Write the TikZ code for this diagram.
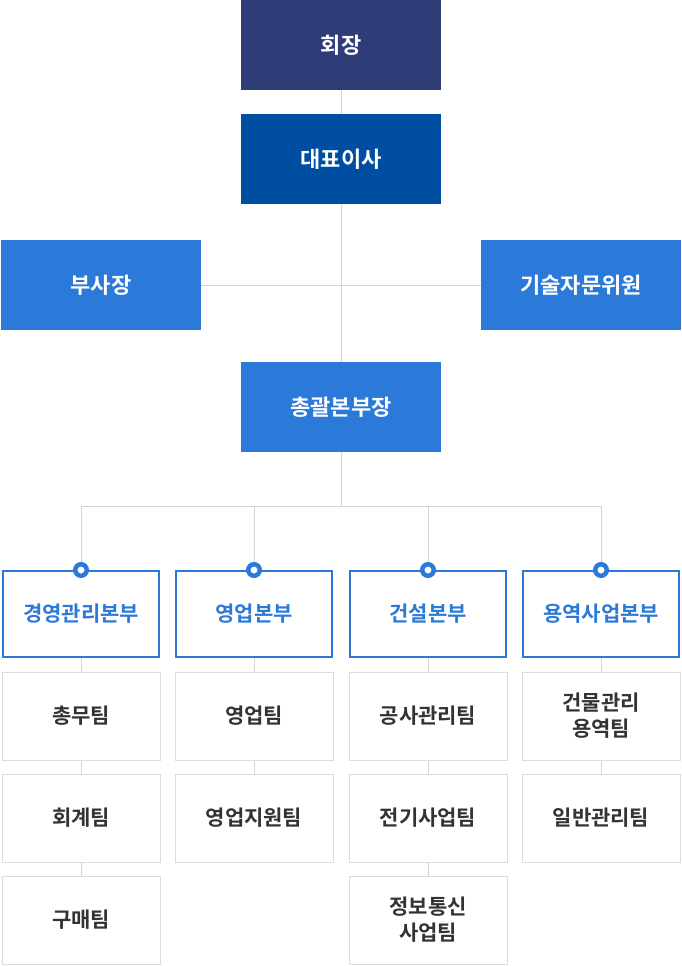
\documentclass[tikz,border=0pt]{standalone}
\usepackage{fontspec}
\setmainfont{Noto Sans CJK KR}[BoldFont={Noto Sans CJK KR Bold}]
\definecolor{navy}{HTML}{2E3C78}
\definecolor{royal}{HTML}{004EA1}
\definecolor{sky}{HTML}{2B79D8}
\definecolor{linegray}{HTML}{D4D4D4}
\definecolor{boxgray}{HTML}{DCDCDC}
\definecolor{textgray}{HTML}{333333}
\tikzset{
  headbox/.style={fill=#1,inner sep=0,minimum width=200pt,minimum height=90pt,
    text=white,font=\bfseries\fontsize{22}{26}\selectfont},
  divbox/.style={draw=sky,line width=2pt,fill=white,inner sep=0,minimum width=156pt,
    minimum height=86pt,text=sky,font=\bfseries\fontsize{21}{25}\selectfont},
  teambox/.style={draw=boxgray,line width=1pt,fill=white,inner sep=0,minimum width=158pt,
    minimum height=88pt,align=center,text=textgray,font=\bfseries\fontsize{21}{26}\selectfont},
  link/.style={draw=linegray,line width=1pt},
  knob/.style={circle,draw=sky,fill=white,line width=4.5pt,minimum size=11.5pt,inner sep=0}
}
\begin{document}
\begin{tikzpicture}[x=1pt,y=-1pt]
    \useasboundingbox (0,0) rectangle (682,966);
    %% top of the chart
    \node[headbox=navy] (chair) at (341,45) {회장};
    \node[headbox=royal] (ceo) at (341,159) {대표이사};
    \node[headbox=sky] (vp) at (101,285) {부사장};
    \node[headbox=sky] (adv) at (581,285) {기술자문위원};
    \node[headbox=sky] (gm) at (341,407) {총괄본부장};
    %% divisions
    \node[divbox] (d1) at (81,614) {경영관리본부};
    \node[divbox] (d2) at (254,614) {영업본부};
    \node[divbox] (d3) at (428,614) {건설본부};
    \node[divbox] (d4) at (601,614) {용역사업본부};
    %% teams
    \node[teambox] (t11) at (81,716) {총무팀};
    \node[teambox] (t12) at (81,818) {회계팀};
    \node[teambox] (t13) at (81,920) {구매팀};
    \node[teambox] (t21) at (254,716) {영업팀};
    \node[teambox] (t22) at (254,818) {영업지원팀};
    \node[teambox] (t31) at (428,716) {공사관리팀};
    \node[teambox] (t32) at (428,818) {전기사업팀};
    \node[teambox] (t33) at (428,920) {정보통신\\사업팀};
    \node[teambox] (t41) at (601,716) {건물관리\\용역팀};
    \node[teambox] (t42) at (601,818) {일반관리팀};
    %% lines
    \coordinate (bus) at (341,506);
    \draw[link] (chair) -- (ceo);
    \draw[link] (ceo) -- (gm);
    \draw[link] (vp) -- (adv);
    \draw[link] (gm) -- (bus);
    \foreach \d in {d1,d2,d3,d4}
        \draw[link] (bus) -| (\d.north);
    \draw[link] (d1) -- (t11) (t11) -- (t12) (t12) -- (t13);
    \draw[link] (d2) -- (t21) (t21) -- (t22);
    \draw[link] (d3) -- (t31) (t31) -- (t32) (t32) -- (t33);
    \draw[link] (d4) -- (t41) (t41) -- (t42);
    %% knobs (trial and error)
    \foreach \d in {d1,d2,d3,d4}
        \node[knob] (k\d) at (\d.north) {};
\end{tikzpicture}
\end{document}
